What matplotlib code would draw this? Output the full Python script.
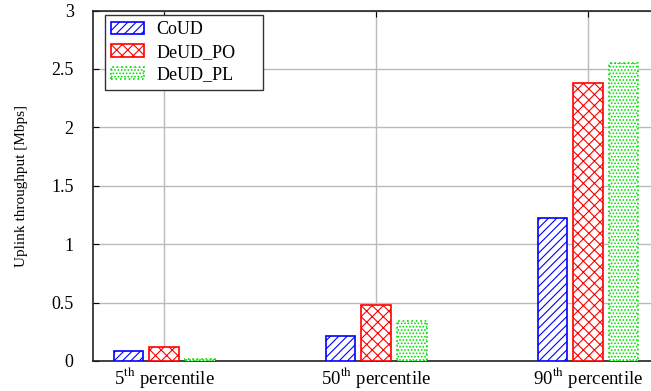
import numpy as np
import matplotlib
matplotlib.use("Agg")
import matplotlib.pyplot as plt

plt.rcParams['font.family'] = ['Liberation Serif', 'DejaVu Serif']
plt.rcParams['mathtext.fontset'] = 'stix'
plt.rcParams['hatch.linewidth'] = 0.8

categories = [r'5$^{\mathrm{th}}$ percentile', r'50$^{\mathrm{th}}$ percentile', r'90$^{\mathrm{th}}$ percentile']
series = ['CoUD', 'DeUD_PO', 'DeUD_PL']
coud = [0.085, 0.21, 1.22]
deud_po = [0.12, 0.48, 2.38]
deud_pl = [0.02, 0.34, 2.55]

colors = ['blue', 'red', '#00dd00']
hatches = ['////', 'xxx', '.....']
styles = ['-', '-', ':']

fig = plt.figure(figsize=(6.51, 3.91), dpi=100)
ax = fig.add_axes([0.143, 0.077, 0.857, 0.896])

x = np.arange(len(categories))
w = 0.14
step = 0.168
for i, (vals, c, h, ls, name) in enumerate(zip([coud, deud_po, deud_pl], colors, hatches, styles, series)):
    ax.bar(x + (i - 1) * step, vals, w, facecolor='white', edgecolor=c, hatch=h,
           linestyle=ls, linewidth=1.2, label=name, zorder=3)

ax.set_xlim(-0.335, 2.297)
ax.set_ylim(0, 3)
ax.set_xticks(x)
ax.set_xticklabels(categories, fontsize=13.5)
ax.set_yticks([0, 0.5, 1, 1.5, 2, 2.5, 3])
ax.set_yticklabels(['0', '0.5', '1', '1.5', '2', '2.5', '3'], fontsize=13)
ax.tick_params(axis='both', direction='in', length=4, top=True, right=False)
ax.tick_params(axis='x', pad=3)
ax.tick_params(axis='y', pad=14)
ax.grid(True, color='#bbbbbb', linewidth=1, zorder=0)
ax.set_axisbelow(True)
ax.spines['right'].set_visible(False)
for s in ['left', 'bottom', 'top']:
    ax.spines[s].set_linewidth(1.2)
    ax.spines[s].set_color('#222222')
ax.set_ylabel('Uplink throughput [Mbps]', fontsize=11, labelpad=17)

leg = ax.legend(loc='upper left', bbox_to_anchor=(0.0215, 0.987, 0.283, 0), mode='expand',
                fontsize=13, frameon=True, fancybox=False, edgecolor='#333333', framealpha=1,
                handlelength=1.8, handleheight=0.7, borderpad=0.35, labelspacing=0.3,
                handletextpad=0.7, borderaxespad=0.0)
leg.get_frame().set_linewidth(1.0)

fig.savefig('out.png', dpi=100)
